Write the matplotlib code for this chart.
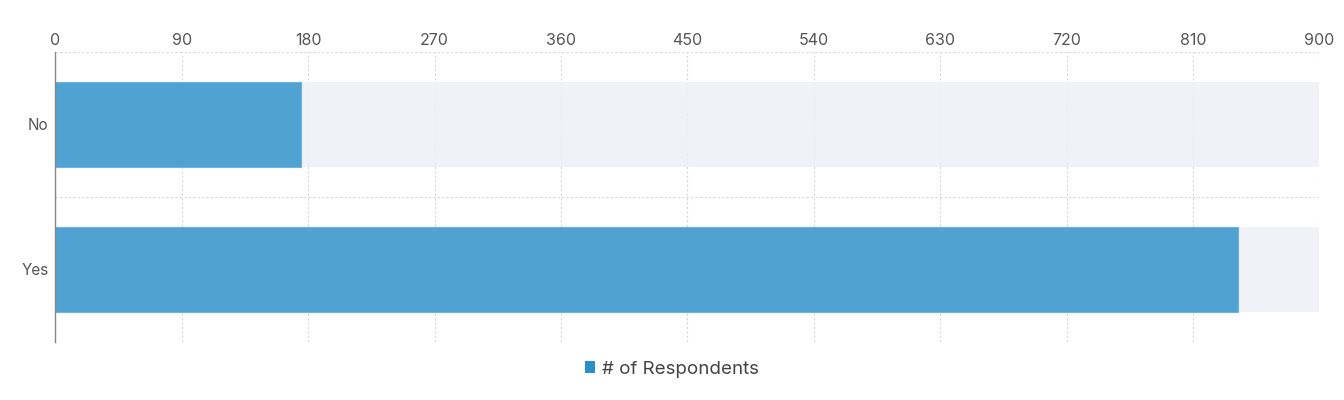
import matplotlib
matplotlib.use("Agg")
import matplotlib.pyplot as plt
from matplotlib.patches import Patch

categories = ["No", "Yes"]
values = [175, 842]
max_value = 900
xticks = [0, 90, 180, 270, 360, 450, 540, 630, 720, 810, 900]
series_name = "# of Respondents"

plt.rcParams['font.family'] = ['Inter', 'DejaVu Sans']

fig = plt.figure(figsize=(13.44, 4.0), dpi=100)
ax = fig.add_axes([55.3/1344, 1-342/400, (1319.3-55.3)/1344, (342-51.7)/400])

pos = list(range(len(categories)))
bh = 0.584
ax.barh(pos, [max_value]*len(categories), height=bh, color="#eff0f6", alpha=0.85, zorder=1)
ax.barh(pos, values, height=bh, color="#4ba0d2", edgecolor="#6db3dd", linewidth=0.8, alpha=0.97, zorder=2)

ax.set_xlim(0, max_value)
ax.set_ylim(len(categories)-0.5, -0.5)
ax.xaxis.tick_top()
ax.set_xticks(xticks)
ax.set_xticklabels([str(t) for t in xticks])
ax.set_yticks(pos)
ax.set_yticklabels(categories)
ax.set_yticks([i-0.5 for i in range(len(categories)+1)], minor=True)

ax.tick_params(axis='x', which='both', length=0, pad=2.5, labelsize=11.5, labelcolor="#555555")
ax.tick_params(axis='y', which='major', length=0, pad=5, labelsize=11, labelcolor="#555555")
ax.tick_params(axis='y', which='minor', length=0)

ax.grid(axis='x', which='major', color="#d6d6d6", linestyle=(0, (2, 2)), linewidth=0.8)
ax.grid(axis='y', which='minor', color="#d6d6d6", linestyle=(0, (2, 2)), linewidth=0.8)
ax.grid(axis='y', which='major', visible=False)
ax.set_axisbelow(True)

for s in ['top', 'right', 'bottom']:
    ax.spines[s].set_visible(False)
ax.spines['left'].set_color("#888888")
ax.spines['left'].set_linewidth(1.0)
ax.spines['left'].set_zorder(5)

handle = Patch(facecolor="#2b8fcb", edgecolor="none", label=series_name)
fig.legend(handles=[handle], loc='center', bbox_to_anchor=(0.5, 1-369/400), frameon=False,
           fontsize=13.5, handlelength=0.55, handleheight=0.55, handletextpad=0.4,
           labelcolor="#444444")

fig.savefig("out.png", dpi=100)
